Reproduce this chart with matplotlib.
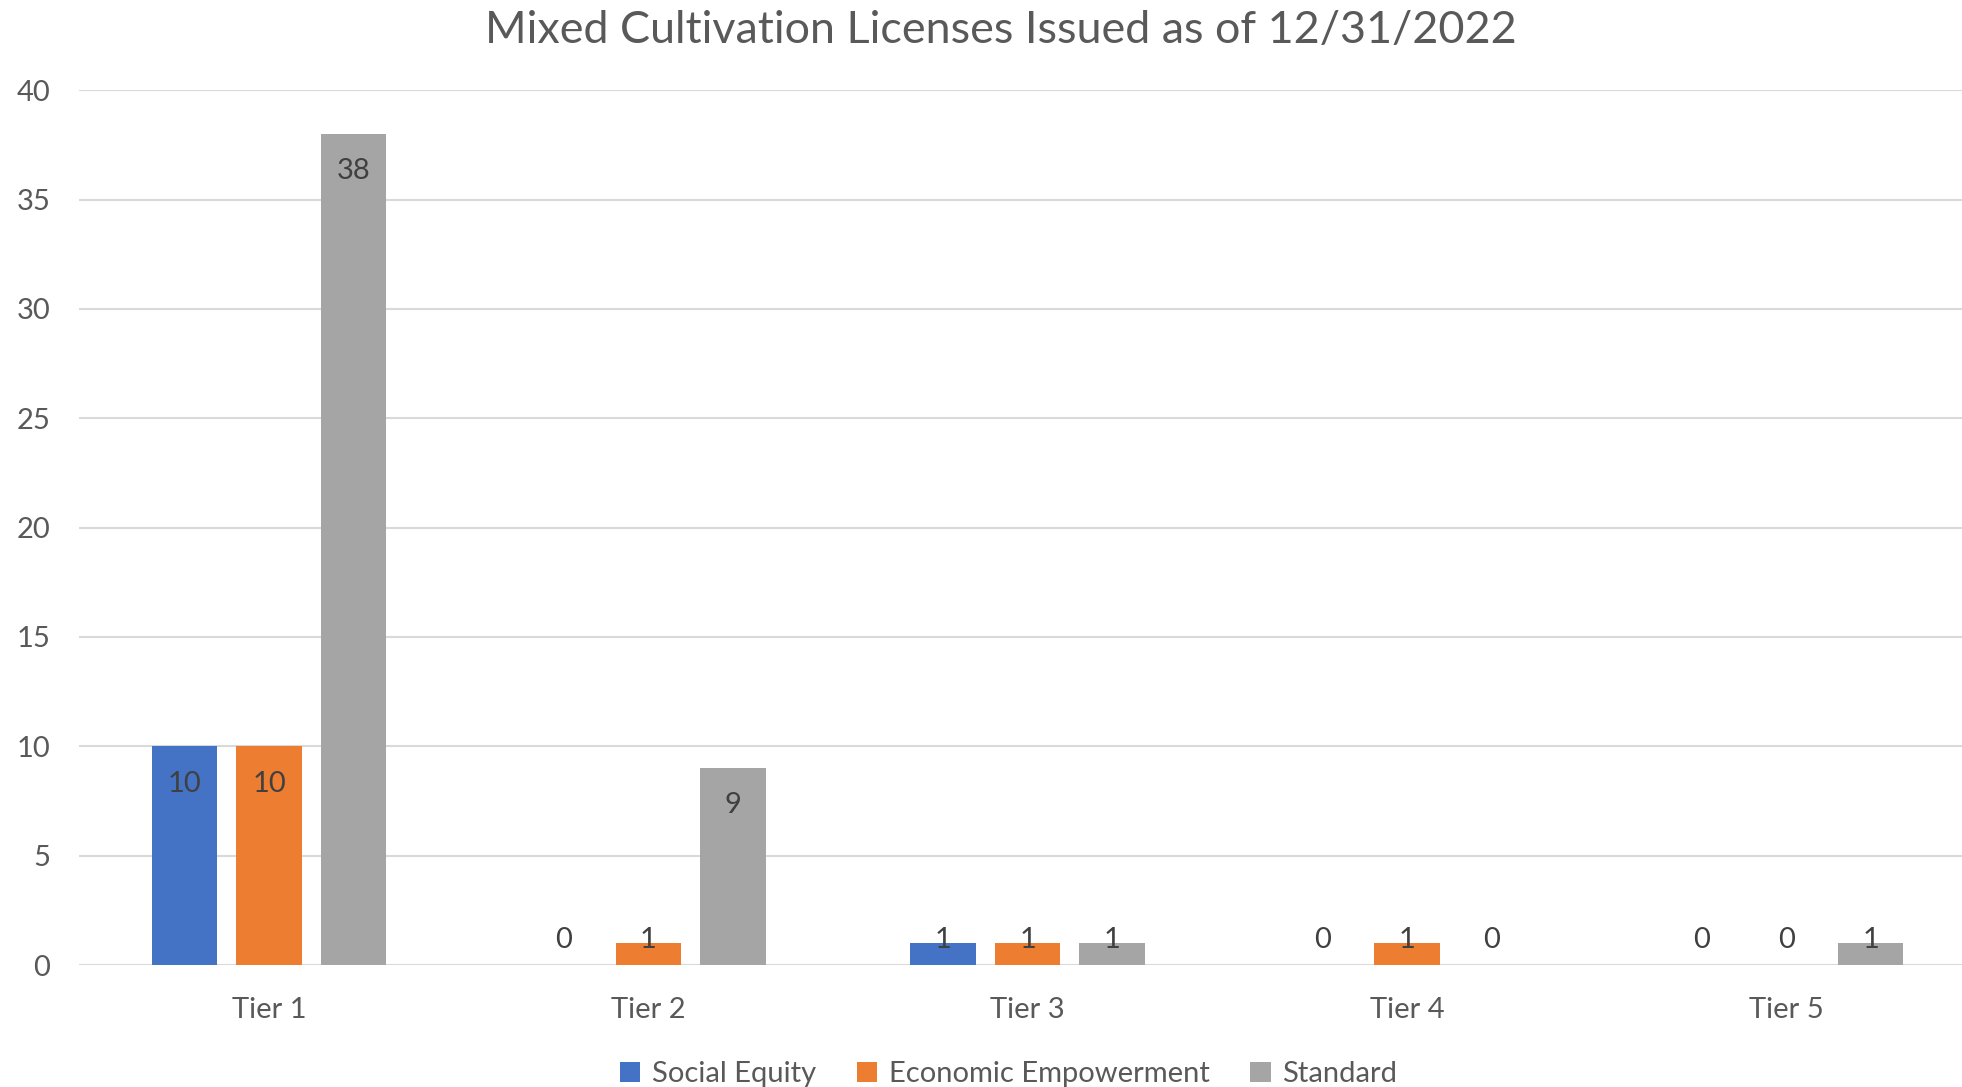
import numpy as np
import matplotlib
matplotlib.use('Agg')
import matplotlib.pyplot as plt

tiers = ['Tier 1', 'Tier 2', 'Tier 3', 'Tier 4', 'Tier 5']
social_equity = [10, 0, 1, 0, 0]
economic_empowerment = [10, 1, 1, 1, 0]
standard = [38, 9, 1, 0, 1]

series_names = ['Social Equity', 'Economic Empowerment', 'Standard']
colors = ['#4472C4', '#ED7D31', '#A5A5A5']

plt.rcParams['font.family'] = ['Lato', 'DejaVu Sans']

fig = plt.figure(figsize=(19.62, 10.87), dpi=100)
ax = fig.add_axes([0.0405, 0.1122, 0.9665, 0.8048])

x = np.arange(len(tiers))
width = 0.173
step = 0.223

for i, (vals, name, c) in enumerate(zip([social_equity, economic_empowerment, standard], series_names, colors)):
    pos = x + (i - 1) * step
    ax.bar(pos, vals, width=width, color=c, label=name, zorder=3)
    for p, v in zip(pos, vals):
        # label sits inside the bar top, or just above the baseline for short bars
        ly = max(v - 1.7, 1.15)
        ax.text(p, ly, str(v), ha='center', va='center', fontsize=21, color='#404040', zorder=4)

ax.set_xlim(-0.5, len(tiers) - 0.5)
ax.set_ylim(0, 40)
ax.set_yticks(range(0, 41, 5))
ax.set_xticks(x)
ax.set_xticklabels(tiers)
ax.yaxis.grid(True, color='#D9D9D9', linewidth=1.5, zorder=0)
ax.set_axisbelow(True)
for s in ax.spines.values():
    s.set_visible(False)
ax.tick_params(axis='both', length=0, labelsize=21, labelcolor='#595959')
ax.tick_params(axis='y', pad=21)
ax.tick_params(axis='x', pad=23)

fig.text(0.51, 0.972, 'Mixed Cultivation Licenses Issued as of 12/31/2022', ha='center', va='center',
         fontsize=32.3, color='#595959')

leg = fig.legend(loc='center', bbox_to_anchor=(0.514, 0.012), ncol=3, frameon=False, fontsize=21,
                 handlelength=0.7, handleheight=0.7, handletextpad=0.4, columnspacing=1.4)
for t in leg.get_texts():
    t.set_color('#595959')

fig.savefig('out.png', dpi=100)
